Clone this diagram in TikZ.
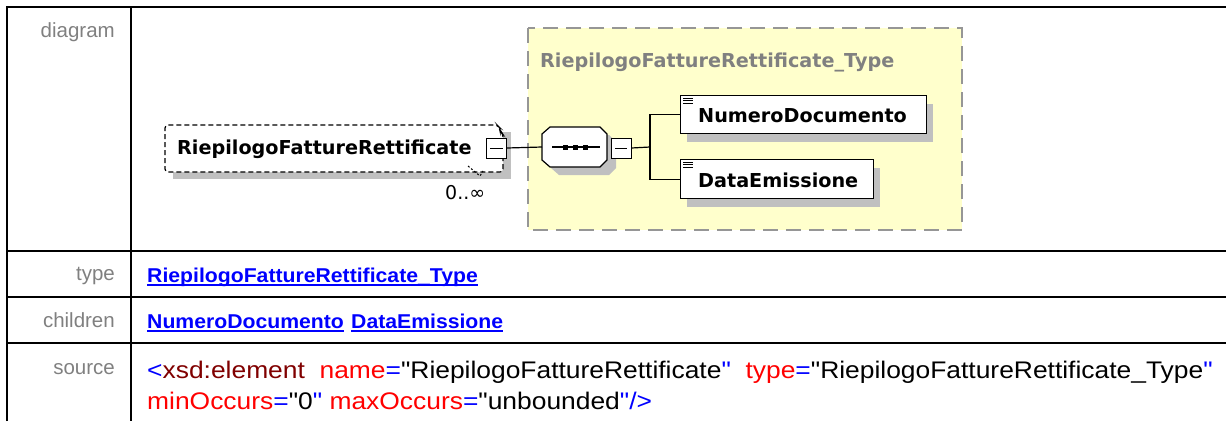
\documentclass[tikz,border=0pt]{standalone}
\usepackage{fontspec}
\setmainfont{Liberation Sans}
\newfontfamily\dvf{DejaVu Sans}
\newfontfamily\srcf{Liberation Sans}[FakeStretch=1.10]
\newfontfamily\lnkf{Liberation Sans}[FakeStretch=1.06]
\definecolor{lblgray}{RGB}{128,128,128}
\definecolor{xmlred}{RGB}{128,0,0}
\definecolor{yellowfill}{RGB}{255,255,204}
\definecolor{shadowgray}{RGB}{192,192,192}
\definecolor{boxborder}{RGB}{150,150,150}
\tikzset{
  tbl/.style={line width=2pt, black},
  lbl/.style={anchor=base east, inner sep=0pt, text=lblgray, font=\fontsize{20.5}{24}\selectfont},
  lnk/.style={anchor=base west, inner sep=0pt, text=blue, font=\lnkf\bfseries\fontsize{20}{24}\selectfont},
  uline/.style={blue, line width=2pt},
  src/.style={anchor=base west, inner sep=0pt, font=\srcf\fontsize{24}{28}\selectfont},
  dtxt/.style={anchor=base west, inner sep=0pt, font=\dvf\bfseries\fontsize{19.2}{22}\selectfont},
  shadowfill/.style={fill=shadowgray},
  minusbox/.style={draw=black, fill=white, line width=1pt, minimum width=20pt, minimum height=20pt, inner sep=0pt},
  childbox/.style={draw=black, fill=white, line width=1.3pt, inner sep=0pt, anchor=north west},
  conn/.style={black, line width=1.2pt},
}
\begin{document}
\begin{tikzpicture}[x=1pt,y=-1pt]
\useasboundingbox (0,0) rectangle (1226,421);
% table
\draw[tbl] (7,421) -- (7,7) -- (1226,7);
\draw[tbl] (131,7) -- (131,421);
\draw[tbl] (7,251) -- (1226,251);
\draw[tbl] (7,297) -- (1226,297);
\draw[tbl] (7,343) -- (1226,343);
% row labels
\node[lbl] (ldiag) at (115,37) {diagram};
\node[lbl] (ltype) at (115,280) {type};
\node[lbl] (lchild) at (115,327) {children};
\node[lbl] (lsrc) at (115,374) {source};
% links
\node[lnk] (typelink) at (147,282) {RiepilogoFattureRettificate\_Type};
\draw[uline] ([yshift=-3pt]typelink.base west) -- ([yshift=-3pt]typelink.base east);
\node[lnk] (ch1) at (147,328) {NumeroDocumento};
\draw[uline] ([yshift=-3pt]ch1.base west) -- ([yshift=-3pt]ch1.base east);
\node[lnk] (ch2) at (351,328) {DataEmissione};
\draw[uline] ([yshift=-3pt]ch2.base west) -- ([yshift=-3pt]ch2.base east);
% source
\node[src] (src1) at (147,378) {\textcolor{blue}{<}\textcolor{xmlred}{xsd:element}\ \ \textcolor{red}{name}\textcolor{blue}{=}"RiepilogoFattureRettificate\textcolor{blue}{"}\ \ \textcolor{red}{type}\textcolor{blue}{=}"RiepilogoFattureRettificate\_Type\textcolor{blue}{"}};
\node[src] (src2) at (147,409) {\textcolor{red}{minOccurs}\textcolor{blue}{=}"0\textcolor{blue}{"} \textcolor{red}{maxOccurs}\textcolor{blue}{=}"unbounded\textcolor{blue}{"/>}};
% type box
\fill[yellowfill] (528,28) rectangle (962,230);
\draw[boxborder, line width=2pt, dash pattern=on 15pt off 8pt] (528,28) rectangle (962,230);
\node[dtxt, text=lblgray] (ttitle) at (540,67) {RiepilogoFattureRettificate\_Type};
% main element
\fill[shadowgray] (173,132) rectangle (511,179);
\fill[white, rounded corners=3pt] (503,134) -- (500,131) -- (500,128) -- (497,125) -- (165,125) -- (165,172) -- (503,172) -- cycle;
\draw[black, line width=1.2pt, dash pattern=on 5pt off 3pt, rounded corners=3pt] (503,134) -- (500,131) -- (500,128) -- (497,125) -- (165,125) -- (165,172) -- (503,172) -- cycle;
\node[dtxt] (mainlbl) at (177,154) {RiepilogoFattureRettificate};
\node[minusbox] (m1) at (496.5,148) {};
\draw[line width=1pt] (490,148) -- (503,148);
\draw[black, line width=1pt, dash pattern=on 2pt off 2pt] (468,166) -- (480,176) -- (483,171);
\node[anchor=base west, inner sep=0pt, font=\dvf\fontsize{19}{22}\selectfont] (occ) at (445,199) {0..∞};
% sequence compositor
\fill[shadowgray] (551,142) -- (559,135) -- (609,135) -- (616,142) -- (616,168) -- (609,175) -- (559,175) -- (551,168) -- cycle;
\draw[black, fill=white, line width=1.2pt] (542,134) -- (550,127) -- (600,127) -- (607,134) -- (607,160) -- (600,167) -- (550,167) -- (542,160) -- cycle;
\coordinate (octL) at (542,147);
\draw[line width=1.2pt] (552,147) -- (600,147);
\fill (563,145) rectangle (568,150);
\fill (573,145) rectangle (578,150);
\fill (583,145) rectangle (588,150);
\node[minusbox] (m2) at (621,148) {};
\draw[line width=1pt] (615,148) -- (627,148);
% connectors
\draw[conn] (m1.east) -- (octL);
\coordinate (br) at (650,147);
% children
\fill[shadowgray] (687,104) rectangle (933,142);
\fill[shadowgray] (687,168) rectangle (880,207);
\node[childbox, minimum width=246pt, minimum height=38pt] (c1) at (680,95) {};
\node[childbox, minimum width=193pt, minimum height=39pt] (c2) at (680,159) {};
\draw[conn] (m2.east) -- (br);
\draw[conn] (br) |- (c1.west);
\draw[conn] (br) |- (c2.west);
\foreach \yy in {98,100.5,103} {\draw[line width=1pt] (683,\yy) -- (693,\yy);}
\foreach \yy in {162,164.5,167} {\draw[line width=1pt] (683,\yy) -- (693,\yy);}
\node[dtxt] (c1lbl) at (698,122) {NumeroDocumento};
\node[dtxt] (c2lbl) at (698,187) {DataEmissione};
\end{tikzpicture}
\end{document}
